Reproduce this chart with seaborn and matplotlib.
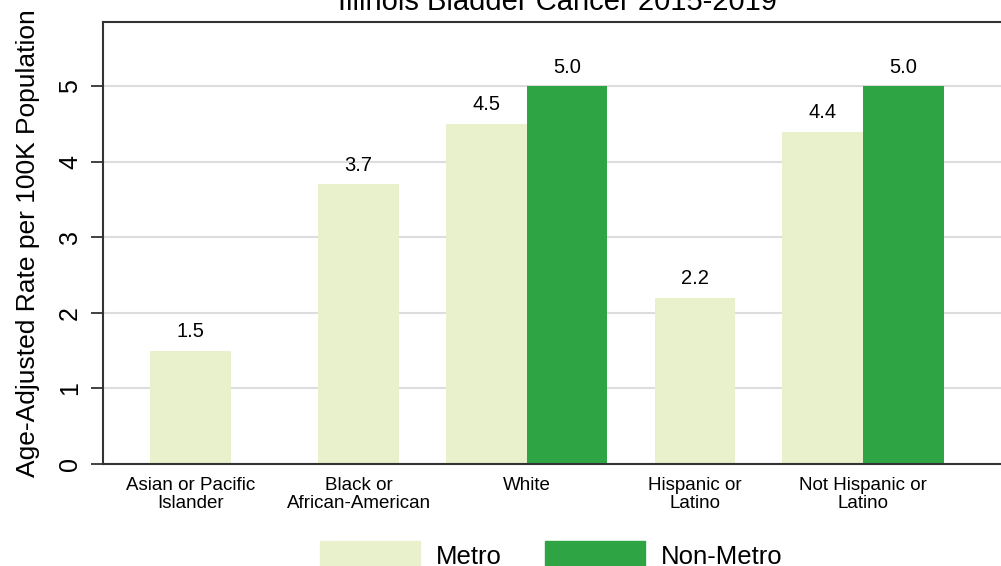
import numpy as np
import pandas as pd
import matplotlib
matplotlib.use("Agg")
import matplotlib.pyplot as plt
import seaborn as sns

# data
categories = ["Asian or Pacific\nIslander", "Black or\nAfrican-American", "White",
              "Hispanic or\nLatino", "Not Hispanic or\nLatino"]
metro = [1.5, 3.7, 4.5, 2.2, 4.4]
non_metro = [np.nan, np.nan, 5.0, np.nan, 5.0]
groups = ["Metro", "Non-Metro"]
colors = {"Metro": "#e8f0cc", "Non-Metro": "#2ea445"}

sns.set_style("white")
plt.rcParams['font.family'] = ['Liberation Sans', 'DejaVu Sans']
plt.rcParams['text.color'] = 'black'
plt.rcParams['xtick.color'] = 'black'
plt.rcParams['ytick.color'] = 'black'
plt.rcParams['axes.labelcolor'] = 'black'

# bars are centred when a category has only one value, dodged otherwise
off = 0.24
rows = []
for i, (m, n) in enumerate(zip(metro, non_metro)):
    if np.isnan(n):
        rows.append((i, "Metro", m))
    else:
        rows.append((i - off, "Metro", m))
        rows.append((i + off, "Non-Metro", n))
df = pd.DataFrame(rows, columns=["pos", "group", "rate"])

fig = plt.figure(figsize=(10.01, 5.66), dpi=100)
ax = fig.add_axes([103 / 1001, 1 - 464 / 566, 1 - 103 / 1001 + 0.01, (464 - 22) / 566])

sns.barplot(data=df, x="pos", y="rate", hue="group", hue_order=groups,
            palette=colors, native_scale=True, dodge=False, width=1.0,
            saturation=1, linewidth=0, ax=ax, legend=False, zorder=2)

for c in ax.containers:
    ax.bar_label(c, fmt="%.1f", padding=7, fontsize=14.5)

ax.set_xlim(-0.52, 4.88)
ax.set_ylim(0, 5.85)
ax.set_yticks(range(6))
ax.set_yticklabels([str(v) for v in range(6)], rotation=90, va="center", fontsize=18)
ax.set_xticks(range(len(categories)))
ax.set_xticklabels(categories, fontsize=13.5, linespacing=1.15)
ax.tick_params(axis="x", length=0, pad=9)
ax.tick_params(axis="y", length=9, width=1.3, color="#333333", pad=6, left=True)
ax.yaxis.grid(True, color="#dddddd", linewidth=1.5, zorder=0)
ax.set_axisbelow(True)
ax.set_xlabel("")
ax.set_ylabel("Age-Adjusted Rate per 100K Population", fontsize=19, labelpad=13)
for s in ["left", "top", "bottom"]:
    ax.spines[s].set_color("#333333")
    ax.spines[s].set_linewidth(1.5)
ax.spines["right"].set_visible(False)

ax.set_title("Illinois Bladder Cancer 2015-2019", fontsize=21, pad=9)

handles = [plt.Rectangle((0, 0), 1, 1, color=colors[g]) for g in groups]
fig.legend(handles, groups, loc="upper center", bbox_to_anchor=(551 / 1001, 1 - 528 / 566),
           ncol=2, frameon=False, fontsize=18.5, handlelength=3.9, handleheight=1.4,
           columnspacing=1.7, handletextpad=0.6, borderpad=0)

fig.savefig("out.png", dpi=100)
